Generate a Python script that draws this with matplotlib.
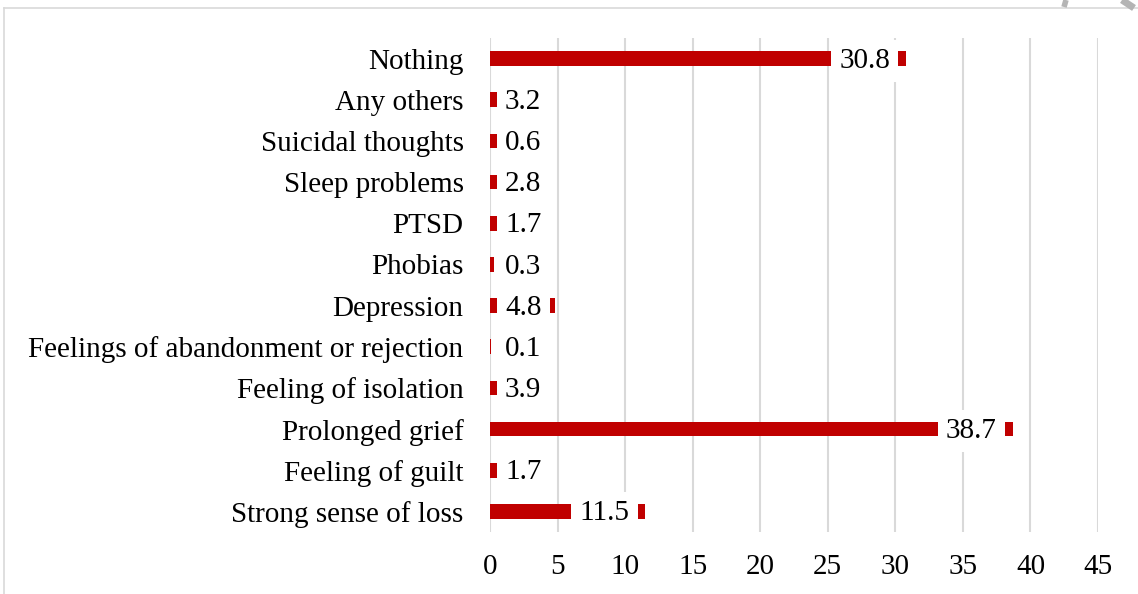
import matplotlib
matplotlib.use("Agg")
import matplotlib.pyplot as plt
from matplotlib.lines import Line2D

categorias = ["Nothing", "Any others", "Suicidal thoughts", "Sleep problems", "PTSD",
              "Phobias", "Depression", "Feelings of abandonment or rejection",
              "Feeling of isolation", "Prolonged grief", "Feeling of guilt",
              "Strong sense of loss"]
valores = [30.8, 3.2, 0.6, 2.8, 1.7, 0.3, 4.8, 0.1, 3.9, 38.7, 1.7, 11.5]
ticks_x = [0, 5, 10, 15, 20, 25, 30, 35, 40, 45]

plt.rcParams['font.family'] = ['Liberation Serif', 'DejaVu Serif']
plt.rcParams['font.size'] = 21

fig = plt.figure(figsize=(11.38, 5.94), dpi=100)
ax = fig.add_axes([490 / 1138, 62 / 594, 608 / 1138, 494 / 594])

pos = range(len(categorias))
ax.barh(pos, valores, height=0.36, color="#C00000", zorder=2)

# etiquetas con fondo blanco encima de la barra
for i, v in enumerate(valores):
    if v >= 6:
        ax.annotate(f"{v}", xy=(v, i), xytext=(-11.5, -1.5), textcoords="offset points",
                    ha="right", va="center", zorder=4,
                    bbox=dict(boxstyle="square,pad=0.28", fc="white", ec="none"))
    else:
        ax.annotate(f"{v}", xy=(0, i), xytext=(10.8, -1.5), textcoords="offset points",
                    ha="left", va="center", zorder=4,
                    bbox=dict(boxstyle="square,pad=0.28", fc="white", ec="none"))

ax.set_yticks(list(pos))
ax.set_yticklabels(categorias)
ax.set_ylim(-0.5, len(categorias) - 0.5)
ax.invert_yaxis()
ax.set_xlim(0, 45)
ax.set_xticks(ticks_x)
ax.xaxis.grid(True, color="#d9d9d9", linewidth=1.5, zorder=0)
ax.set_axisbelow(True)
for s in ax.spines.values():
    s.set_visible(False)
ax.tick_params(axis="x", length=0, pad=16)
ax.tick_params(axis="y", length=0, pad=19)

# marco del grafico
fig.add_artist(Line2D([4 / 1138, 4 / 1138], [0, 1 - 8 / 594], transform=fig.transFigure,
                      color="#d9d9d9", linewidth=1.2))
fig.add_artist(Line2D([4 / 1138, 1], [1 - 8 / 594, 1 - 8 / 594], transform=fig.transFigure,
                      color="#d9d9d9", linewidth=1.2))

# trazos grises en la esquina superior derecha
fig.add_artist(Line2D([1066 / 1138, 1064 / 1138], [1, 1 - 7 / 594], transform=fig.transFigure,
                      color="#b4b4b4", linewidth=4, solid_capstyle="butt"))
fig.add_artist(Line2D([1122 / 1138, 1134 / 1138], [1, 1 - 8 / 594], transform=fig.transFigure,
                      color="#b4b4b4", linewidth=5, solid_capstyle="butt"))

fig.savefig("out.png", dpi=100)
